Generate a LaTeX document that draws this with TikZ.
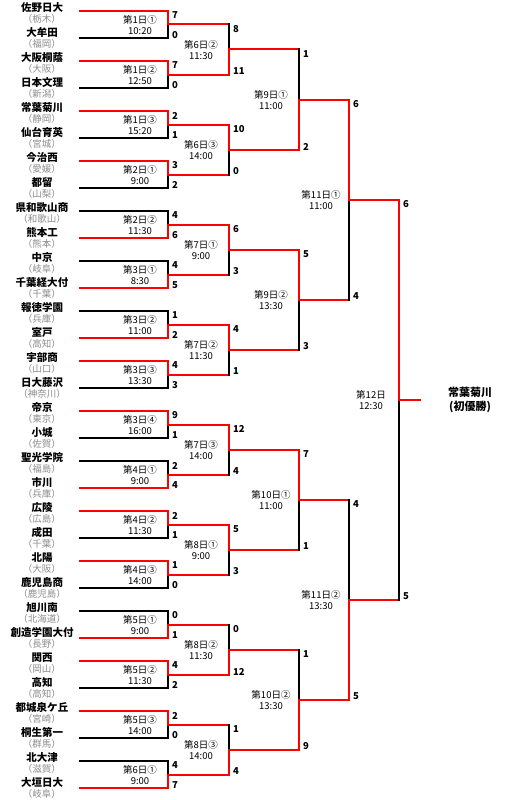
\documentclass[tikz,border=0pt]{standalone}
\usepackage{fontspec}
\setmainfont{Noto Sans CJK JP}
\usetikzlibrary{positioning}

\begin{document}
\begin{tikzpicture}[
	x=1pt, y=-1pt,
	team/.style={font=\bfseries\fontsize{10.5}{12}\selectfont, inner sep=0pt},
	pref/.style={font=\fontsize{9.5}{10}\selectfont, text=black!45, inner sep=0pt},
	score/.style={font=\bfseries\fontsize{9.5}{10}\selectfont, anchor=west, inner sep=0pt},
	game/.style={font=\fontsize{9.5}{11}\selectfont, align=center, inner sep=0pt},
	champ/.style={font=\bfseries\fontsize{11}{14}\selectfont, align=center, inner sep=0pt},
	won/.style={draw=red, line width=2pt, line cap=rect},
	lost/.style={draw=black, line width=2pt, line cap=rect}
]
	\useasboundingbox (0,0) rectangle (520,800);

	% Teams
	\foreach \nm/\pf [count=\i from 0] in {佐野日大/栃木, 大牟田/福岡, 大阪桐蔭/大阪, 日本文理/新潟,
		常葉菊川/静岡, 仙台育英/宮城, 今治西/愛媛, 都留/山梨, 県和歌山商/和歌山, 熊本工/熊本,
		中京/岐阜, 千葉経大付/千葉, 報徳学園/兵庫, 室戸/高知, 宇部商/山口, 日大藤沢/神奈川,
		帝京/東京, 小城/佐賀, 聖光学院/福島, 市川/兵庫, 広陵/広島, 成田/千葉, 北陽/大阪,
		鹿児島商/鹿児島, 旭川南/北海道, 創造学園大付/長野, 関西/岡山, 高知/高知,
		都城泉ケ丘/宮崎, 桐生第一/群馬, 北大津/滋賀, 大垣日大/岐阜}{
		\node[team] (t\i) at (42,{7.5+25*\i}) {\nm};
		\node[pref, below=1.5pt of t\i] (p\i) {（\pf）};
	}

	% Rounds: number / start x / vertical x / out x / first mid / step / half gap / colour of loser line / games
	\foreach \r/\xa/\xv/\xo/\yb/\st/\hf/\lc/\games in {
		1/80/168/229/24.5/50/13.5/black/{0/7/0/第1日①/10:20, 0/7/0/第1日②/12:50, 0/2/1/第1日③/15:20,
			0/3/2/第2日①/9:00, 1/4/6/第2日②/11:30, 1/4/5/第3日①/8:30, 1/1/2/第3日②/11:00,
			0/4/3/第3日③/13:30, 0/9/1/第3日④/16:00, 1/2/4/第4日①/9:00, 0/2/1/第4日②/11:30,
			0/1/0/第4日③/14:00, 1/0/1/第5日①/9:00, 0/4/2/第5日②/11:30, 0/2/0/第5日③/14:00,
			1/4/7/第6日①/9:00},
		2/168/229/299/49.5/100/25/red/{1/8/11/第6日②/11:30, 0/10/0/第6日③/14:00, 0/6/3/第7日①/9:00,
			0/4/1/第7日②/11:30, 0/12/4/第7日③/14:00, 0/5/3/第8日①/9:00, 1/0/12/第8日②/11:30,
			1/1/4/第8日③/14:00},
		3/229/299/349/99.5/200/50/red/{1/1/2/第9日①/11:00, 0/5/3/第9日②/13:30, 0/7/1/第10日①/11:00,
			1/1/9/第10日②/13:30},
		4/299/349/399/199.5/400/100/red/{0/6/4/第11日①/11:00, 1/4/5/第11日②/13:30},
		5/349/399/420/399.5/0/200/red/{0/6/5/第12日/12:30}}{
		\foreach \w/\sa/\sb/\dy/\tm [count=\k from 0] in \games {
			\pgfmathsetmacro\ym{\yb+\st*\k}
			\pgfmathsetmacro\ytop{\ym-\hf}
			\pgfmathsetmacro\ybot{\ym+\hf}
			\coordinate (A\r-\k) at (\xa,\ytop);
			\coordinate (Ac\r-\k) at (\xv,\ytop);
			\coordinate (B\r-\k) at (\xa,\ybot);
			\coordinate (Bc\r-\k) at (\xv,\ybot);
			\coordinate (M\r-\k) at (\xv,\ym);
			\coordinate (O\r-\k) at (\xo,\ym);
			\ifnum\w=0
				\draw[lost, draw=\lc] (B\r-\k) -- (Bc\r-\k);
				\draw[lost] (Bc\r-\k) -- (M\r-\k);
				\draw[won] (A\r-\k) -- (Ac\r-\k) -- (M\r-\k) -- (O\r-\k);
			\else
				\draw[lost, draw=\lc] (A\r-\k) -- (Ac\r-\k);
				\draw[lost] (Ac\r-\k) -- (M\r-\k);
				\draw[won] (B\r-\k) -- (Bc\r-\k) -- (M\r-\k) -- (O\r-\k);
			\fi
			\node[score] (sa\r-\k) at ({\xv+4},{\ytop+4.5}) {\sa};
			\node[score] (sb\r-\k) at ({\xv+4},{\ybot-3}) {\sb};
			\node[game] (g\r-\k) at ({\xv-28},{\ym+0.5}) {\dy\\\tm};
		}
	}

	% Champion
	\node[champ] (champ) at (470,400) {常葉菊川\\(初優勝)};
\end{tikzpicture}
\end{document}
